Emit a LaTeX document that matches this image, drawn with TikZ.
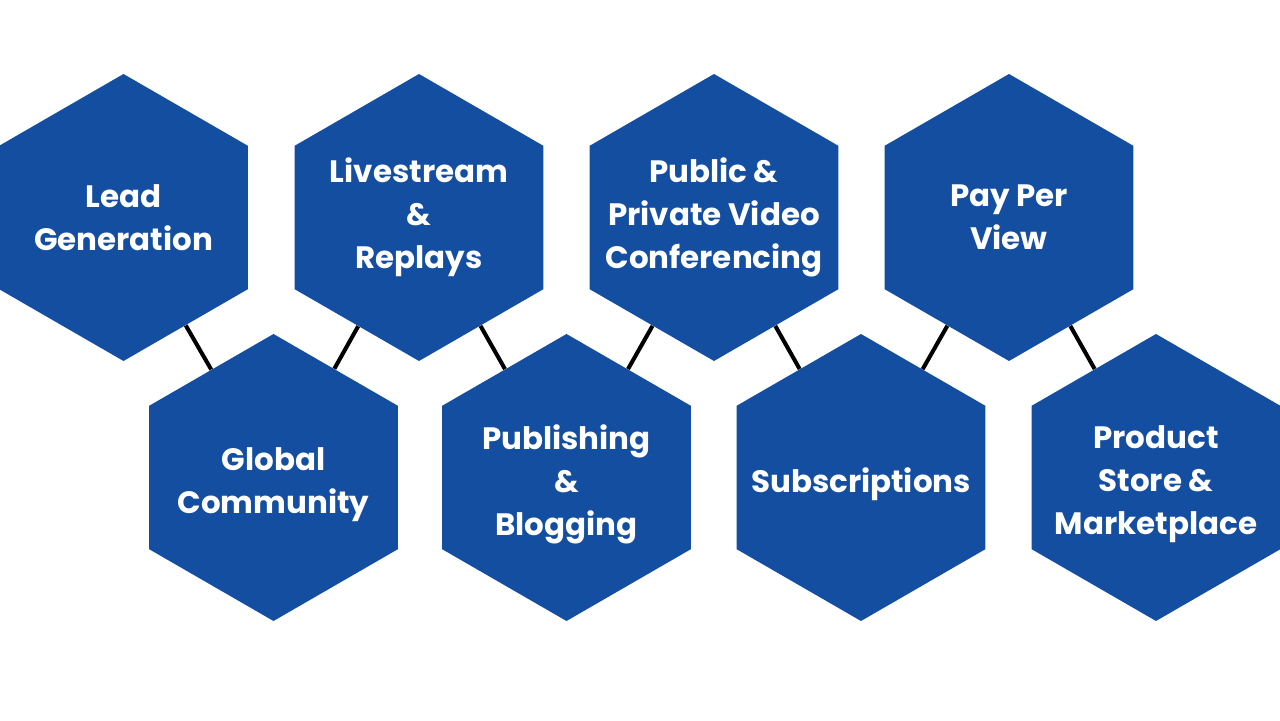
\documentclass[tikz,border=0pt]{standalone}
\usepackage{fontspec}
\setmainfont{Poppins}
\usetikzlibrary{shapes.geometric}
\definecolor{hexblue}{RGB}{20,78,160}
\tikzset{
  hex/.style={regular polygon, regular polygon sides=6, shape border rotate=30,
    fill=hexblue, draw=none, inner sep=0pt, minimum size=5.74cm},
  hextext/.style={text=white, align=center, font=\bfseries\fontsize{17.6}{24.4}\selectfont},
  lowtext/.style={hextext, yshift=-0.14cm},
  link/.style={line width=2.3pt, black}
}
\begin{document}
\begin{tikzpicture}
  \useasboundingbox (0,0) rectangle (25.6,14.4);
  % top row
  \node[hex, label={[hextext]center:Lead\\Generation}] (lead) at (2.47,10.05) {};
  \node[hex, label={[hextext]center:Livestream\\\&\\Replays}] (live) at (8.38,10.05) {};
  \node[hex, label={[hextext]center:Public \&\\Private Video\\Conferencing}] (conf) at (14.28,10.05) {};
  \node[hex, label={[hextext]center:Pay Per\\View}] (ppv) at (20.18,10.05) {};
  % bottom row
  \node[hex, label={[lowtext]center:Global\\Community}] (glob) at (5.47,4.85) {};
  \node[hex, label={[lowtext]center:Publishing\\\&\\Blogging}] (blog) at (11.33,4.85) {};
  \node[hex, label={[lowtext]center:Subscriptions}] (subs) at (17.22,4.85) {};
  \node[hex, label={[lowtext]center:Product\\Store \&\\Marketplace}] (store) at (23.12,4.85) {};
  \begin{scope}[link]
    \draw (lead) -- (glob);
    \draw (live) -- (glob);
    \draw (live) -- (blog);
    \draw (conf) -- (blog);
    \draw (conf) -- (subs);
    \draw (ppv) -- (subs);
    \draw (ppv) -- (store);
  \end{scope}
\end{tikzpicture}
\end{document}
